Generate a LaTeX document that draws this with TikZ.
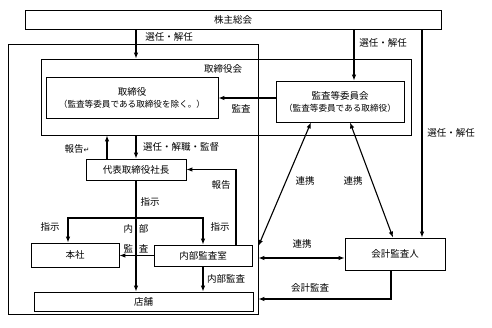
\documentclass[tikz,border=0pt]{standalone}
\usepackage{fontspec}
\setmainfont{Noto Sans CJK JP}
\newfontfamily\symfont{DejaVu Sans}
\usetikzlibrary{arrows.meta,positioning,calc}

\begin{document}
\begin{tikzpicture}[
            x=1pt, y=-1pt,
            box/.style={
                draw,
                line width=0.8pt,
                inner sep=0pt,
                align=center,
                font=\fontsize{9.5}{12}\selectfont
            },
            frame/.style={
                draw,
                line width=0.8pt,
                inner sep=0pt
            },
            lbl/.style={
                inner sep=0pt,
                font=\fontsize{9.5}{12}\selectfont
            },
            note/.style={
                font=\fontsize{8.6}{12}\selectfont
            },
            arr/.style={
                -{Latex[length=6pt,width=4.5pt]},
                line width=1.1pt
            },
            biarr/.style={
                {Latex[length=6pt,width=4.5pt]}-{Latex[length=6pt,width=4.5pt]},
                line width=1.1pt
            }
        ]

            \useasboundingbox (0,0) rectangle (492,327);

            % --- Shareholders and company frame ---
            \node[box, minimum width=416pt, minimum height=19pt] (share) at (233,19.5) {株主総会};
            \node[frame, minimum width=250pt, minimum height=270pt] (company) at (133,179) {};

            % --- Board of directors ---
            \node[frame, minimum width=370pt, minimum height=76pt] (board) at (226,97) {};
            \node[lbl] (boardlbl) at (223,69) {取締役会};
            \node[box, minimum width=172pt, minimum height=41pt] (dir) at (132,97.5)
                {取締役\\{\fontsize{8.6}{12}\selectfont （監査等委員である取締役を除く。）}};
            \node[box, minimum width=128pt, minimum height=41pt] (comm) at (340,101.5)
                {監査等委員会\\{\fontsize{8.6}{13}\selectfont （監査等委員である取締役）}};

            % --- Executive side ---
            \node[box, minimum width=100pt, minimum height=21pt] (pres) at (136,169.5) {代表取締役社長};
            \node[box, minimum width=88pt, minimum height=24pt] (office) at (75,255) {本社};
            \node[box, minimum width=98pt, minimum height=21pt] (ia) at (203,255.5) {内部監査室};
            \node[box, minimum width=219pt, minimum height=19pt] (stores) at (143.5,301.5) {店舗};

            % --- Accounting auditor ---
            \node[box, minimum width=100pt, minimum height=32pt] (acct) at (395,254) {会計監査人};

            % --- Appointment arrows ---
            \draw[arr] (share.south -| pres) -- (board.north -| pres);
            \draw[arr] ([xshift=14pt]comm.north |- share.south) -- ([xshift=14pt]comm.north);
            \draw[arr] ([xshift=27pt]acct.north |- share.south) -- ([xshift=27pt]acct.north);
            \node[lbl] (sel1) at (169,37) {選任・解任};
            \node[lbl] (sel2) at (383,43) {選任・解任};
            \node[lbl] (sel3) at (451,133) {選任・解任};

            % --- Audit of directors ---
            \draw[arr] ([yshift=3.5pt]comm.west) -- ([yshift=3.5pt]comm.west -| dir.east);
            \node[lbl] (audlbl) at (241,109) {監査};

            % --- Board and president ---
            \draw[arr] ([xshift=-29pt]pres.north) -- ([xshift=-29pt]pres.north |- board.south);
            \draw[arr] (board.south -| pres) -- (pres.north);
            \draw[arr] ([xshift=33pt]ia.north) |- (pres.east);
            \node[lbl] (rep1) at (77,149) {報告{\symfont\fontsize{7}{8}\selectfont ↵}};
            \node[lbl] (supv) at (181,147) {選任・解職・監督};
            \node[lbl] (rep2) at (221,185) {報告};

            % --- Instructions ---
            \coordinate (split) at (pres.south |- 0,218);
            \draw[arr] (pres.south) -- (pres.south |- stores.north);
            \draw[arr] (split) -| ([xshift=-7pt]office.north);
            \draw[arr] (split) -| (ia.north);
            \node[lbl] (ins1) at (150,202) {指示};
            \node[lbl] (ins2) at (50,227) {指示};
            \node[lbl] (ins3) at (220,227) {指示};

            % --- Internal audit ---
            \draw[arr] (ia.west) -- (ia.west -| office.east);
            \draw[arr] (ia.south) -- (ia.south |- stores.north);
            \node[lbl, align=center] (intaud1) at (136,238.5) {内\hspace{6pt}部\\[8pt]監\hspace{6pt}査};
            \node[lbl, anchor=west] (intaud2) at (207,279) {内部監査};

            % --- Cooperation ---
            \draw[biarr] ([xshift=-29pt]comm.south) -- ([yshift=-67pt]company.east);
            \draw[biarr] ([xshift=10pt]comm.south) -- ([xshift=-2pt]acct.north);
            \draw[biarr] ([yshift=-4pt]acct.west) -- ([yshift=-4pt]acct.west -| company.east);
            \node[lbl] (coop1) at (305,181) {連携};
            \node[lbl] (coop2) at (353,181) {連携};
            \node[lbl] (coop3) at (302,244) {連携};

            % --- Accounting audit ---
            \draw[arr] ([xshift=-4pt]acct.south) |- ([yshift=-120pt]company.east);
            \node[lbl] (acclbl) at (310,288) {会計監査};
        \end{tikzpicture}
\end{document}
